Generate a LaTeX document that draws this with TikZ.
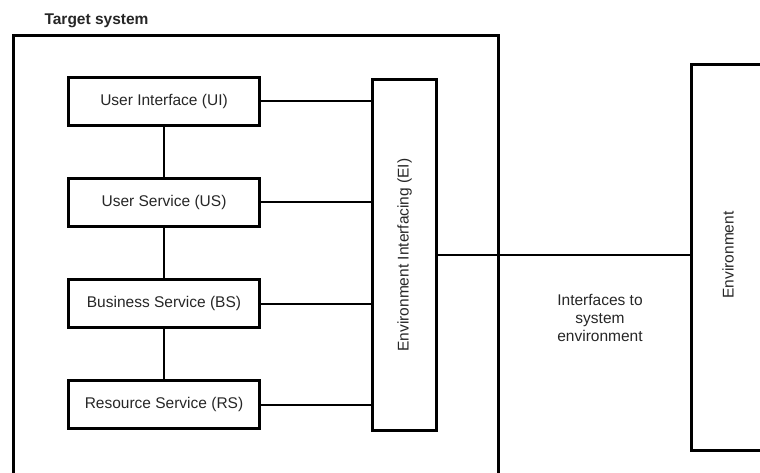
\documentclass[tikz,border=0pt]{standalone}
\usepackage{fontspec}
\setmainfont{Liberation Sans}
\begin{document}
\begin{tikzpicture}[x=1pt,y=-1pt,
  every node/.style={font=\fontsize{15.5}{18}\selectfont, text=black!85},
  block/.style={draw=black, line width=3pt, rectangle, inner sep=0pt,
                minimum width=191pt, minimum height=48pt},
  link/.style={draw=black, line width=2pt},
  frame/.style={draw=black, line width=3pt}]
  \useasboundingbox (0,0) rectangle (760,473);
  \clip (0,0) rectangle (760,473);

  % Target system frame (continues below the page edge)
  \node[font=\fontsize{15.5}{18}\selectfont\bfseries, anchor=base west] (title) at (41,25) {Target system};
  \draw[frame] (13.5,490) -- (13.5,35.5) -- (498.5,35.5) -- (498.5,490);

  % Layered services
  \node[block] (ui) at (164,101.5) {User Interface (UI)};
  \node[block] (us) at (164,202.5) {User Service (US)};
  \node[block] (bs) at (164,303.5) {Business Service (BS)};
  \node[block] (rs) at (164,404.5) {Resource Service (RS)};

  % Environment interfacing column
  \node[draw=black, line width=3pt, inner sep=0pt, minimum width=351pt,
        minimum height=64pt, rotate=90] (ei) at (404.5,255)
        {Environment Interfacing (EI)};

  % Environment (extends past the right edge)
  \node[draw=black, line width=3pt, inner sep=0pt, anchor=north west,
        minimum width=120pt, minimum height=385pt] (env) at (689.5,63.5) {};
  \node[rotate=90] (envtext) at (728,255) {Environment};

  \node[align=center] (iface) at (600,318) {Interfaces to\\system\\environment};

  % Connections
  \draw[link] (ui) -- (us);
  \draw[link] (us) -- (bs);
  \draw[link] (bs) -- (rs);
  \draw[link] (ui.east) -- (ui.east -| ei.north);
  \draw[link] (us.east) -- (us.east -| ei.north);
  \draw[link] (bs.east) -- (bs.east -| ei.north);
  \draw[link] (rs.east) -- (rs.east -| ei.north);
  \draw[link] (ei.south) -- (ei.south -| env.west);
\end{tikzpicture}
\end{document}
